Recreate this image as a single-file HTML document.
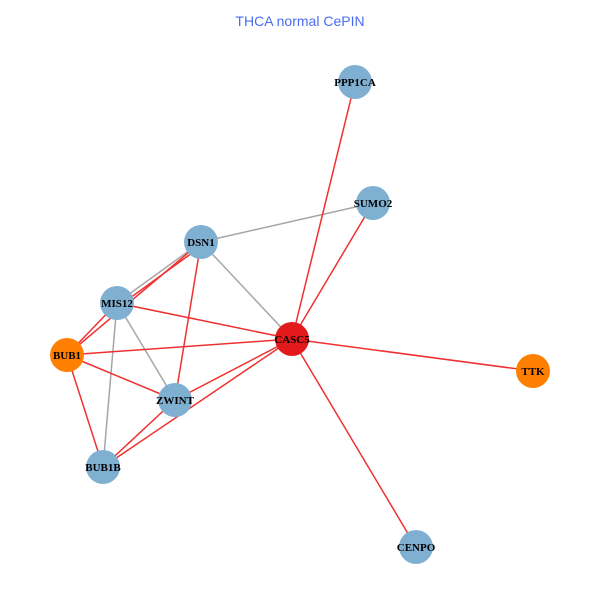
<!DOCTYPE html>
<html><head><style>body{margin:0;background:#fff}</style></head><body>
<svg width="600" height="600" xmlns="http://www.w3.org/2000/svg">
<rect width="600" height="600" fill="#fff"/>
<text x="300" y="26" text-anchor="middle" font-family="Liberation Sans, sans-serif" font-size="14" fill="#4a6cf0">THCA normal CePIN</text>
<g stroke="#a6a6a6" stroke-width="1.5">
<line x1="201" y1="242" x2="373" y2="203"/>
<line x1="201" y1="242" x2="292" y2="339"/>
<line x1="201" y1="242" x2="117" y2="303"/>
<line x1="117" y1="303" x2="175" y2="400"/>
<line x1="117" y1="303" x2="103" y2="467"/>
</g>
<g stroke="#f03030" stroke-width="1.5">
<line x1="292" y1="339" x2="355" y2="82"/>
<line x1="292" y1="339" x2="373" y2="203"/>
<line x1="292" y1="339" x2="533" y2="371"/>
<line x1="292" y1="339" x2="416" y2="547"/>
<line x1="292" y1="339" x2="117" y2="303"/>
<line x1="292" y1="339" x2="67" y2="355"/>
<line x1="292" y1="339" x2="175" y2="400"/>
<line x1="292" y1="339" x2="103" y2="467"/>
<line x1="201" y1="242" x2="67" y2="355"/>
<line x1="203" y1="245" x2="119" y2="306"/>
<line x1="201" y1="242" x2="175" y2="400"/>
<line x1="117" y1="303" x2="67" y2="355"/>
<line x1="67" y1="355" x2="175" y2="400"/>
<line x1="67" y1="355" x2="103" y2="467"/>
<line x1="175" y1="400" x2="103" y2="467"/>
</g>
<g fill="#7fb0d2">
<circle cx="355" cy="82" r="17"/>
<circle cx="373" cy="203" r="17"/>
<circle cx="201" cy="242" r="17"/>
<circle cx="117" cy="303" r="17"/>
<circle cx="175" cy="400" r="17"/>
<circle cx="103" cy="467" r="17"/>
<circle cx="416" cy="547" r="17"/>
</g>
<circle cx="67" cy="355" r="17" fill="#ff7f00"/>
<circle cx="533" cy="371" r="17" fill="#ff7f00"/>
<circle cx="292" cy="339" r="17" fill="#e31a1c"/>
<g font-family="Liberation Serif, serif" font-weight="bold" font-size="11" text-anchor="middle" fill="#000">
<text x="355" y="86">PPP1CA</text>
<text x="373" y="207">SUMO2</text>
<text x="201" y="246">DSN1</text>
<text x="117" y="307">MIS12</text>
<text x="67" y="359">BUB1</text>
<text x="292" y="343">CASC5</text>
<text x="533" y="375">TTK</text>
<text x="175" y="404">ZWINT</text>
<text x="103" y="471">BUB1B</text>
<text x="416" y="551">CENPO</text>
</g>
</svg>
</body></html>
